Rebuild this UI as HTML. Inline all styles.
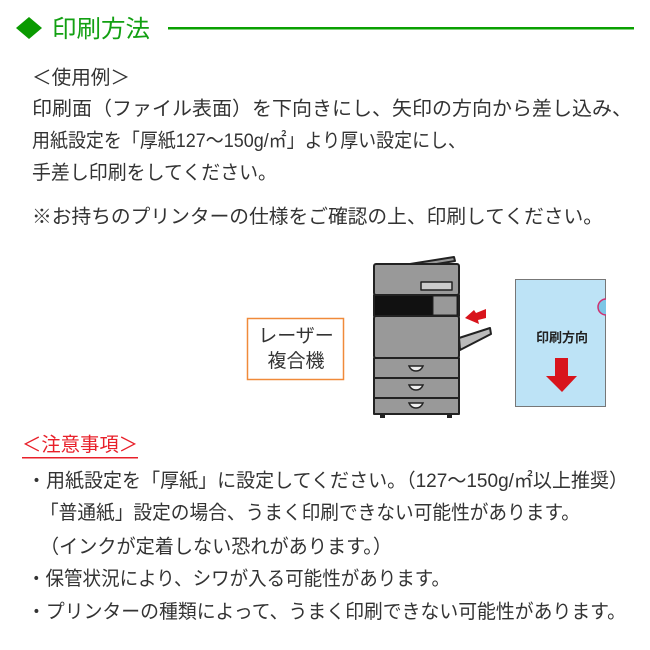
<!DOCTYPE html>
<html><head><meta charset="utf-8"><style>
html,body{margin:0;padding:0;background:#fff;}
svg{display:block;}
text{font-family:"Liberation Sans","Noto Sans CJK JP",sans-serif;}
</style></head><body>
<svg width="650" height="650" viewBox="0 0 650 650" xmlns="http://www.w3.org/2000/svg">
<!-- header -->
<polygon points="29,17 42,28 29,39 16,28" fill="#0a9a00"/>
<text x="52" y="37" font-size="24" fill="#12a012" textLength="98" lengthAdjust="spacingAndGlyphs">印刷方法</text>
<rect x="168" y="27" width="466" height="2.5" fill="#0aa000"/>

<g font-size="19.5" fill="#333">
<text x="32" y="84" textLength="98" lengthAdjust="spacingAndGlyphs">＜使用例＞</text>
<text x="32" y="115" textLength="600" lengthAdjust="spacingAndGlyphs">印刷面（ファイル表面）を下向きにし、矢印の方向から差し込み、</text>
<text x="32" y="147" textLength="434" lengthAdjust="spacingAndGlyphs">用紙設定を「厚紙127〜150g/㎡」より厚い設定にし、</text>
<text x="32" y="179" textLength="245" lengthAdjust="spacingAndGlyphs">手差し印刷をしてください。</text>
<text x="32" y="223" textLength="571" lengthAdjust="spacingAndGlyphs">※お持ちのプリンターの仕様をご確認の上、印刷してください。</text>

<text x="22" y="451" fill="#e8202a" textLength="116" lengthAdjust="spacingAndGlyphs">＜注意事項＞</text>
<rect x="22" y="457" width="116" height="1.5" fill="#e8202a"/>
<text x="27" y="487" textLength="601" lengthAdjust="spacingAndGlyphs">・用紙設定を「厚紙」に設定してください。（127〜150g/㎡以上推奨）</text>
<text x="40" y="519" textLength="540" lengthAdjust="spacingAndGlyphs">「普通紙」設定の場合、うまく印刷できない可能性があります。</text>
<text x="40" y="553" textLength="352" lengthAdjust="spacingAndGlyphs">（インクが定着しない恐れがあります。）</text>
<text x="27" y="585" textLength="423" lengthAdjust="spacingAndGlyphs">・保管状況により、シワが入る可能性があります。</text>
<text x="27" y="618" textLength="599" lengthAdjust="spacingAndGlyphs">・プリンターの種類によって、うまく印刷できない可能性があります。</text>
</g>

<!-- label box -->
<rect x="247.5" y="318.5" width="96" height="61" fill="#fff" stroke="#f08a3a" stroke-width="1.5"/>
<text x="296" y="342" font-size="19" fill="#333" text-anchor="middle">レーザー</text>
<text x="296" y="367" font-size="19" fill="#333" text-anchor="middle">複合機</text>

<!-- printer -->
<g stroke="#222" stroke-width="2" stroke-linejoin="round">
<polygon points="410,264 454,257 455,261 412,268" fill="#999"/>
<rect x="374" y="264" width="85" height="31" rx="2" fill="#999"/>
<rect x="421" y="282" width="31" height="8" fill="#ccc" stroke-width="1.5"/>
<rect x="374" y="295" width="85" height="21" fill="#111"/>
<rect x="433" y="296" width="24" height="19" fill="#999" stroke-width="1"/>
<rect x="374" y="316" width="85" height="42" rx="2" fill="#999"/>
<polygon points="459,338 490,328 491,334 460,350" fill="#bbb"/>
<rect x="374" y="358" width="85" height="20" fill="#999"/>
<rect x="374" y="378" width="85" height="20" fill="#999"/>
<rect x="374" y="398" width="85" height="16" fill="#999"/>
</g>
<g fill="#eee" stroke="#222" stroke-width="1.5">
<path d="M409,366 h14 q-2,5 -7,5 q-5,0 -7,-5z"/>
<path d="M409,385 h14 q-2,5 -7,5 q-5,0 -7,-5z"/>
<path d="M409,403 h14 q-2,5 -7,5 q-5,0 -7,-5z"/>
</g>
<rect x="380" y="413" width="5" height="5" fill="#222"/>
<rect x="447" y="413" width="5" height="5" fill="#222"/>
<polygon points="465,318 474,310 476,313 486,309 486,318 478,320 479,324" fill="#d8141c"/>

<!-- document -->
<rect x="515.5" y="279.5" width="90" height="127" fill="#bde3f6" stroke="#777" stroke-width="1"/>
<path d="M606,299 a8,8 0 0 0 0,16" fill="#7cc6e6" stroke="#d03070" stroke-width="1.5"/>
<text x="562" y="342" font-size="13" font-weight="bold" fill="#222" text-anchor="middle">印刷方向</text>
<polygon points="555,358 568,358 568,376 577,376 562,392 546,376 555,376" fill="#d8141c"/>
</svg>
</body></html>
